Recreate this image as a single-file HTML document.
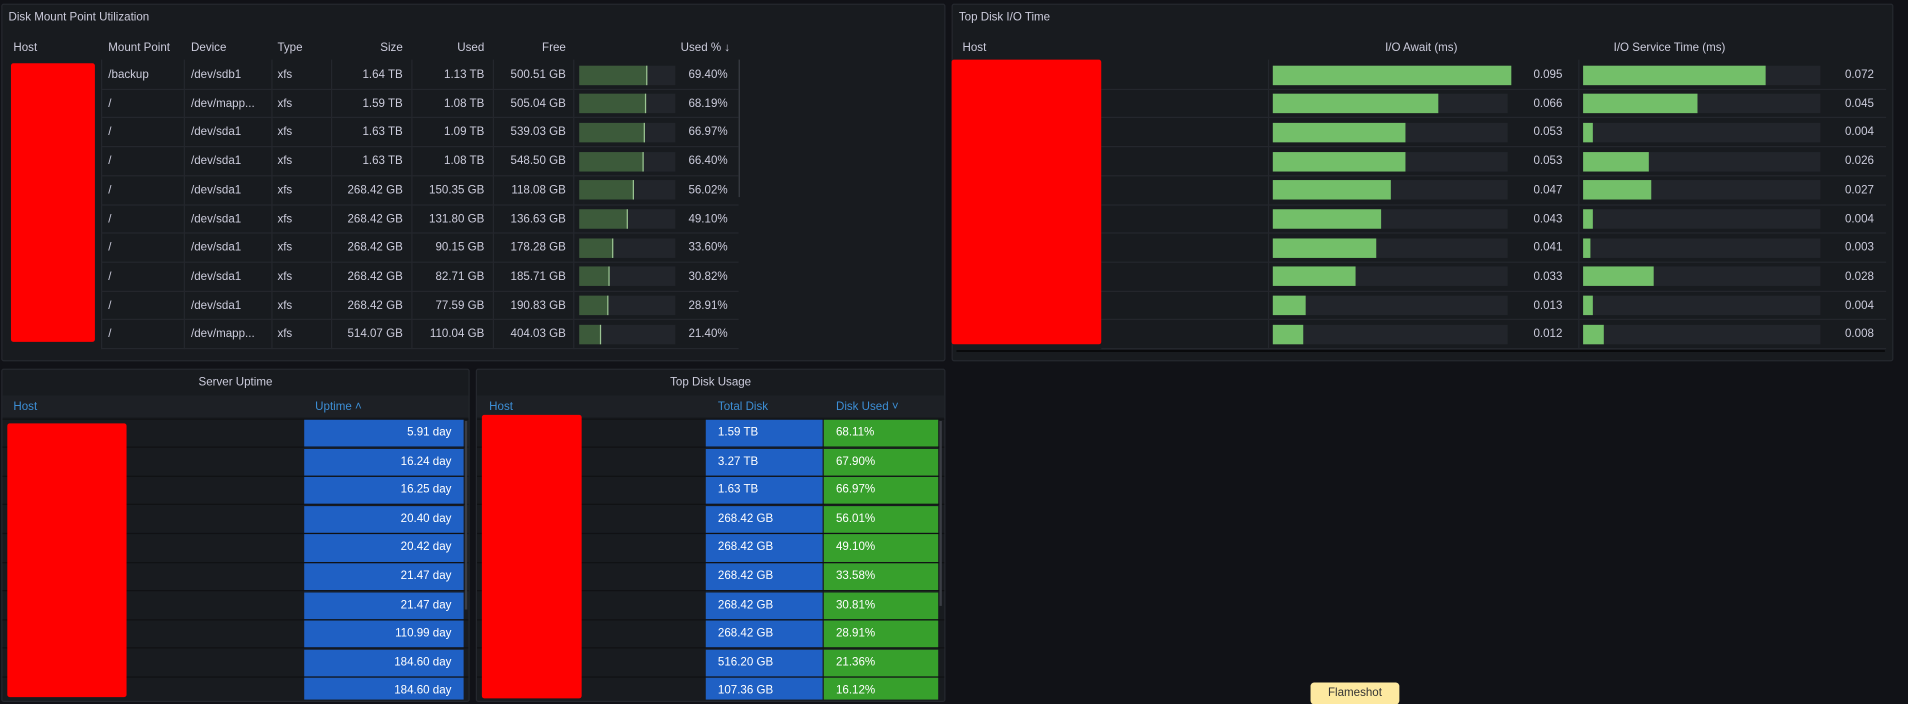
<!DOCTYPE html>
<html><head><meta charset="utf-8"><style>
*{margin:0;padding:0;box-sizing:border-box}
html,body{width:1908px;height:702px;overflow:hidden;background:#111217}
#w{position:absolute;left:0;top:0;width:1568px;height:577px;transform:scale(1.21684,1.21664);transform-origin:0 0;font-family:"Liberation Sans",sans-serif;font-size:9.5px;color:#ccccdc}
.p{position:absolute;background:#181b1f;border:1px solid #25282e;border-radius:2px}
.a{position:absolute;white-space:nowrap}
.r{position:absolute;height:1px;background:#24272d}
.v{position:absolute;width:1px;background:#24272d}
.red{position:absolute;background:#ff0000;border-radius:2px}
.bb{position:absolute;height:16px;background:#22252b}
.gf{position:absolute;height:16px;background:#3c5a3a;border-right:1px solid #9bc493}
.lg{position:absolute;height:16px;background:#73bf69}
.bc{position:absolute;background:#1f60c4;color:#fff;text-align:right;padding-right:10px;line-height:22px;font-size:9.5px;overflow:hidden}
.gc{position:absolute;background:#37a02c;color:#fff;padding-left:10px;line-height:22px;overflow:hidden}
.tc{position:absolute;background:#1f60c4;color:#fff;padding-left:10px;line-height:22px;overflow:hidden}
.h{color:#3d8fd6}
</style></head><body><div id="w">

<div class="p" style="left:1px;top:3px;width:776px;height:294px"></div>
<div class="a" style="left:7px;top:9px;font-size:9.5px">Disk Mount Point Utilization</div>
<div class="a" style="left:11px;top:34px">Host</div>
<div class="a" style="left:89px;top:34px">Mount Point</div>
<div class="a" style="left:157px;top:34px">Device</div>
<div class="a" style="left:228px;top:34px">Type</div>
<div class="a" style="left:281px;top:34px;width:50px;text-align:right">Size</div>
<div class="a" style="left:348px;top:34px;width:50px;text-align:right">Used</div>
<div class="a" style="left:415px;top:34px;width:50px;text-align:right">Free</div>
<div class="a" style="left:530px;top:34px;width:70px;text-align:right">Used % &#8595;</div>
<div class="v" style="left:83px;top:49px;height:238px"></div>
<div class="v" style="left:151px;top:49px;height:238px"></div>
<div class="v" style="left:223px;top:49px;height:238px"></div>
<div class="v" style="left:272px;top:49px;height:238px"></div>
<div class="v" style="left:338px;top:49px;height:238px"></div>
<div class="v" style="left:405px;top:49px;height:238px"></div>
<div class="v" style="left:471px;top:49px;height:238px"></div>
<div class="v" style="left:607px;top:49px;height:113px;background:#3a3d44"></div>

<div class="p" style="left:782px;top:3px;width:774px;height:294px"></div>
<div class="a" style="left:788px;top:9px">Top Disk I/O Time</div>
<div class="a" style="left:791px;top:34px">Host</div>
<div class="a" style="left:1120px;top:34px;width:96px;text-align:center">I/O Await (ms)</div>
<div class="a" style="left:1310px;top:34px;width:124px;text-align:center">I/O Service Time (ms)</div>
<div class="v" style="left:1042px;top:49px;height:238px"></div>
<div class="v" style="left:1297px;top:49px;height:238px"></div>
<div class="r" style="left:786px;top:288px;width:763px;height:1px;background:#000"></div>

<div class="p" style="left:1px;top:303px;width:385px;height:274px"></div>
<div class="a" style="left:1px;top:309px;width:385px;text-align:center">Server Uptime</div>
<div class="a" style="left:2px;top:325px;width:383px;height:18px;background:#1d2025"></div>
<div class="a h" style="left:11px;top:329px">Host</div>
<div class="a h" style="left:259px;top:329px">Uptime &#708;</div>

<div class="p" style="left:391px;top:303px;width:386px;height:274px"></div>
<div class="a" style="left:391px;top:309px;width:386px;text-align:center">Top Disk Usage</div>
<div class="a" style="left:392px;top:325px;width:384px;height:18px;background:#1d2025"></div>
<div class="a h" style="left:402px;top:329px">Host</div>
<div class="a h" style="left:590px;top:329px">Total Disk</div>
<div class="a h" style="left:687px;top:329px">Disk Used &#709;</div>

<div id="rows"></div>

<div class="a" style="left:1077px;top:561px;width:73px;height:18px;background:#fde9a0;color:#333;border-radius:3px;text-align:center;line-height:18px;font-size:9.5px">Flameshot</div>
</div>

<script>
(function(){
var d1=[["/backup","/dev/sdb1","1.64 TB","1.13 TB","500.51 GB",69.40],
["/","/dev/mapp...","1.59 TB","1.08 TB","505.04 GB",68.19],
["/","/dev/sda1","1.63 TB","1.09 TB","539.03 GB",66.97],
["/","/dev/sda1","1.63 TB","1.08 TB","548.50 GB",66.40],
["/","/dev/sda1","268.42 GB","150.35 GB","118.08 GB",56.02],
["/","/dev/sda1","268.42 GB","131.80 GB","136.63 GB",49.10],
["/","/dev/sda1","268.42 GB","90.15 GB","178.28 GB",33.60],
["/","/dev/sda1","268.42 GB","82.71 GB","185.71 GB",30.82],
["/","/dev/sda1","268.42 GB","77.59 GB","190.83 GB",28.91],
["/","/dev/mapp...","514.07 GB","110.04 GB","404.03 GB",21.40]];
var aw=[.095,.066,.053,.053,.047,.043,.041,.033,.013,.012],sv=[.072,.045,.004,.026,.027,.004,.003,.028,.004,.008];
var up=["5.91","16.24","16.25","20.40","20.42","21.47","21.47","110.99","184.60","184.60"];
var td=["1.59 TB","3.27 TB","1.63 TB","268.42 GB","268.42 GB","268.42 GB","268.42 GB","268.42 GB","516.20 GB","107.36 GB"];
var du=["68.11%","67.90%","66.97%","56.01%","49.10%","33.58%","30.81%","28.91%","21.36%","16.12%"];
var h="";
function t(x,y,s,w,al){return '<div class="a" style="left:'+x+'px;top:'+y+'px'+(w?';width:'+w+'px;text-align:'+(al||'right'):'')+'">'+s+'</div>';}
for(var i=0;i<10;i++){
 var rt=49.5+i*23.7,ty=rt+6.5,by=rt+4;
 h+='<div class="r" style="left:83px;top:'+(rt+23.2)+'px;width:524px"></div>';
 var r=d1[i];
 h+=t(89,ty,r[0])+t(157,ty,r[1])+t(228,ty,'xfs')+t(271,ty,r[2],60)+t(338,ty,r[3],60)+t(405,ty,r[4],60)+t(540,ty,r[5].toFixed(2)+'%',58);
 h+='<div class="bb" style="left:476px;top:'+by+'px;width:79px"></div><div class="gf" style="left:476px;top:'+by+'px;width:'+(79*r[5]/100+1)+'px"></div>';
 h+='<div class="r" style="left:905px;top:'+(rt+23.2)+'px;width:645px"></div>';
 h+='<div class="bb" style="left:1046px;top:'+by+'px;width:193px"></div><div class="lg" style="left:1046px;top:'+by+'px;width:'+(196*aw[i]/.095)+'px"></div>';
 h+='<div class="bb" style="left:1301px;top:'+by+'px;width:195px"></div><div class="lg" style="left:1301px;top:'+by+'px;width:'+Math.max(5,150*sv[i]/.072)+'px"></div>';
 h+=t(1230,ty,aw[i].toFixed(3),54)+t(1486,ty,sv[i].toFixed(3),54);
 var ct=345+i*23.6,ch=Math.min(22.6,575-ct);
 if(ch>0){
 h+='<div class="r" style="left:2px;top:'+(ct-1.5)+'px;width:383px;background:#101114"></div>';
 h+='<div class="bc" style="left:250px;top:'+ct+'px;width:131px;height:'+ch+'px">'+up[i]+' day</div>';
 h+='<div class="r" style="left:392px;top:'+(ct-1.5)+'px;width:384px;background:#101114"></div>';
 h+='<div class="tc" style="left:580px;top:'+ct+'px;width:96px;height:'+ch+'px">'+td[i]+'</div>';
 h+='<div class="gc" style="left:677px;top:'+ct+'px;width:94px;height:'+ch+'px">'+du[i]+'</div>';}
}
h+='<div class="red" style="left:9px;top:52px;width:69px;height:229px"></div>';
h+='<div class="red" style="left:782px;top:49px;width:123px;height:234px"></div>';
h+='<div class="red" style="left:6px;top:348px;width:98px;height:225px"></div>';
h+='<div class="red" style="left:396px;top:341px;width:82px;height:233px"></div>';
h+='<div class="v" style="left:382px;top:346px;height:155px;background:#3a3d44;width:2px"></div>';
h+='<div class="v" style="left:772px;top:346px;height:152px;background:#3a3d44;width:2px"></div>';
document.getElementById("rows").innerHTML=h;
})();
</script>
</body></html>
